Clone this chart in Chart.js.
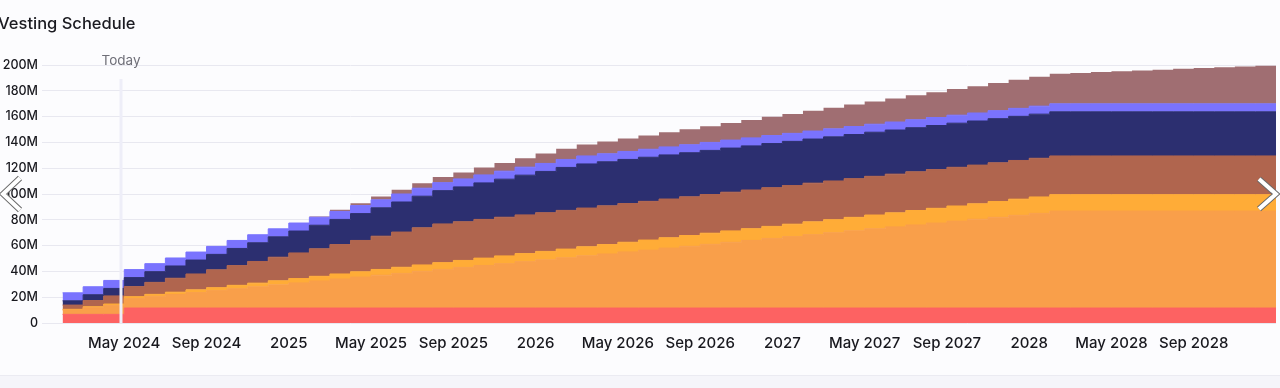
<!DOCTYPE html>
<html><head><meta charset="utf-8">
<script src="https://cdn.jsdelivr.net/npm/chart.js@4.4.1/dist/chart.umd.min.js"></script>
<style>
html,body{margin:0;padding:0;background:#fcfcfe;width:1280px;height:388px;overflow:hidden;font-family:Inter,"Open Sans",sans-serif;}
#title{position:absolute;left:-2px;top:13px;font-size:16.5px;font-weight:500;color:#1a1a20;line-height:20px;}
#wrap{position:absolute;left:0;top:0;width:1280px;height:388px;}
#foot{position:absolute;left:0;top:375px;width:1280px;height:13px;background:#f5f5fa;border-top:1px solid #ebebf2;}
svg.arrow{position:absolute;top:0;left:0;}
</style></head><body>
<div id="wrap"><canvas id="c" width="1280" height="388"></canvas></div>
<div id="title">Vesting Schedule</div>
<div id="foot"></div>
<svg class="arrow" width="1280" height="388">
  <polyline points="20,178 3,194 20,210" fill="none" stroke="#6a6a6a" stroke-width="6" stroke-linejoin="miter"/>
  <polyline points="20,178 3,194 20,210" fill="none" stroke="#ffffff" stroke-width="4" stroke-linejoin="miter"/>
  <polyline points="1259,179 1276,194 1259,209" fill="none" stroke="#6a6a6a" stroke-width="6" stroke-linejoin="miter"/>
  <polyline points="1259,179 1276,194 1259,209" fill="none" stroke="#ffffff" stroke-width="4" stroke-linejoin="miter"/>
</svg>
<script>
// Month of each step (value holds until the next month); last entry closes the final step
const months = [
 '2024-02','2024-03','2024-04','2024-05','2024-06','2024-07','2024-08','2024-09','2024-10','2024-11','2024-12',
 '2025-01','2025-02','2025-03','2025-04','2025-05','2025-06','2025-07','2025-08','2025-09','2025-10','2025-11','2025-12',
 '2026-01','2026-02','2026-03','2026-04','2026-05','2026-06','2026-07','2026-08','2026-09','2026-10','2026-11','2026-12',
 '2027-01','2027-02','2027-03','2027-04','2027-05','2027-06','2027-07','2027-08','2027-09','2027-10','2027-11','2027-12',
 '2028-01','2028-02','2028-03','2028-04','2028-05','2028-06','2028-07','2028-08','2028-09','2028-10','2028-11','2028-12',
 '2029-01'
];
// Unlocked tokens per allocation, millions (stacked bottom to top)
const seriesA = [6.7,6.7,6.7,11.6,11.6,11.6,11.6,11.6,11.6,11.6,
 11.6,11.6,11.6,11.6,11.6,11.6,11.6,11.6,11.6,11.6,
 11.6,11.6,11.6,11.6,11.6,11.6,11.6,11.6,11.6,11.6,
 11.6,11.6,11.6,11.6,11.6,11.6,11.6,11.6,11.6,11.6,
 11.6,11.6,11.6,11.6,11.6,11.6,11.6,11.6,11.6,11.6,
 11.6,11.6,11.6,11.6,11.6,11.6,11.6,11.6,11.6,11.6];
const seriesB = [3.4,5.1,7.0,7.5,9.1,10.5,12.0,13.5,15.0,16.5,
 18.0,19.5,21.0,22.5,24.0,25.5,26.9,28.5,30.0,31.5,
 33.0,34.4,36.0,37.4,39.0,40.5,41.9,43.5,44.9,46.5,
 47.9,49.4,51.0,52.4,54.0,55.4,56.9,58.4,59.9,61.5,
 62.9,64.4,65.9,67.4,68.9,70.4,71.9,73.4,75.2,75.2,
 75.2,75.2,75.2,75.2,75.2,75.2,75.2,75.2,75.2,75.2];
const seriesC = [0.5,0.8,1.0,1.3,1.5,1.8,2.1,2.3,2.6,2.8,
 3.1,3.4,3.6,3.9,4.1,4.4,4.7,4.9,5.2,5.4,
 5.7,6.0,6.2,6.5,6.7,7.0,7.3,7.5,7.8,8.0,
 8.3,8.6,8.8,9.1,9.3,9.6,9.9,10.1,10.4,10.6,
 10.9,11.2,11.4,11.7,11.9,12.2,12.5,12.7,12.7,12.7,
 12.7,12.7,12.7,12.7,12.7,12.7,12.7,12.7,12.7,12.7];
const seriesD = [3.3,4.8,6.3,7.8,9.3,10.8,12.3,13.8,15.3,16.8,
 18.3,19.8,21.3,22.8,24.3,25.8,27.3,28.8,30.0,30.0,
 30.0,30.0,30.0,30.0,30.0,30.0,30.0,30.0,30.0,30.0,
 30.0,30.0,30.0,30.0,30.0,30.0,30.0,30.0,30.0,30.0,
 30.0,30.0,30.0,30.0,30.0,30.0,30.0,30.0,30.0,30.0,
 30.0,30.0,30.0,30.0,30.0,30.0,30.0,30.0,30.0,30.0];
const seriesE = [3.3,4.5,5.8,7.0,8.3,9.5,10.8,12.0,13.3,14.5,
 15.8,17.0,18.3,19.5,20.8,22.0,23.3,24.5,25.8,27.0,
 28.3,29.5,30.8,32.0,33.3,34.2,34.2,34.2,34.2,34.2,
 34.2,34.2,34.2,34.2,34.2,34.2,34.2,34.2,34.2,34.2,
 34.2,34.2,34.2,34.2,34.2,34.2,34.2,34.2,34.2,34.2,
 34.2,34.2,34.2,34.2,34.2,34.2,34.2,34.2,34.2,34.2];
const seriesF = [6.2,6.2,6.2,6.2,6.2,6.2,6.2,6.2,6.2,6.2,
 6.2,6.2,6.2,6.2,6.2,6.2,6.2,6.2,6.2,6.2,
 6.2,6.2,6.2,6.2,6.2,6.2,6.2,6.2,6.2,6.2,
 6.2,6.2,6.2,6.2,6.2,6.2,6.2,6.2,6.2,6.2,
 6.2,6.2,6.2,6.2,6.2,6.2,6.2,6.2,6.2,6.2,
 6.2,6.2,6.2,6.2,6.2,6.2,6.2,6.2,6.2,6.2];
const seriesG = [0,0,0,0,0,0,0,0,0,0,
 0,0,0.6,1.3,1.9,2.5,3.2,3.8,4.4,5.0,
 5.7,6.3,6.9,7.6,8.2,8.8,9.5,10.1,10.7,11.3,
 12.0,12.6,13.2,13.9,14.5,15.1,15.8,16.4,17.0,17.6,
 18.3,18.9,19.5,20.2,20.8,21.4,22.1,22.7,23.3,23.9,
 24.6,25.2,25.8,26.5,27.1,27.7,28.4,29.0,29.6,29.6];
const seriesNames = ['Allocation A','Allocation B','Allocation C','Allocation D','Allocation E','Allocation F','Allocation G'];
const seriesColors = ['#fd6262','#f99f4a','#ffac37','#b0654e','#2c2f70','#7a73fe','#a06e72'];
const tickMonths = ['2024-05','2024-09','2025-01','2025-05','2025-09','2026-01','2026-05','2026-09','2027-01','2027-05','2027-09','2028-01','2028-05','2028-09'];
const tickLabels = ['May 2024','Sep 2024','2025','May 2025','Sep 2025','2026','May 2026','Sep 2026','2027','May 2027','Sep 2027','2028','May 2028','Sep 2028'];
const yTicks = [0,20,40,60,80,100,120,140,160,180,200];
const axisStart = '2024-01', axisEnd = '2029-01';
const today = '2024-04-26';

function mIdx(s){const p=s.split('-').map(Number);return (p[0]-2024)*12+(p[1]-1)+(p.length>2?(p[2]-1)/30:0);}
const allSeries=[seriesA,seriesB,seriesC,seriesD,seriesE,seriesF,seriesG];
const datasets = allSeries.map((arr,i)=>({
  label: seriesNames[i],
  data: arr.map((v,j)=>({x:mIdx(months[j]), y:v})),
  backgroundColor: seriesColors[i],
  borderColor: i===6 ? 'rgba(0,0,0,0)' : seriesColors[i],
  borderWidth: i===6 ? 0 : 1,
  pointRadius: 0,
  stepped: true,
  fill: i===0 ? 'origin' : '-1'
}));
const labelMap = {}; tickMonths.forEach((t,i)=>labelMap[mIdx(t)]=tickLabels[i]);

const todayPlugin = {
  id:'today',
  afterDatasetsDraw(chart){
    const {ctx, chartArea, scales:{x}} = chart;
    const px = Math.round(x.getPixelForValue(mIdx(today)));
    ctx.save();
    ctx.fillStyle = '#eeeef8';
    ctx.fillRect(px-1.5, 79, 3, chartArea.bottom-79);
    ctx.fillStyle = '#6f6f78';
    ctx.font = '400 13.5px Inter, sans-serif';
    ctx.textAlign = 'center';
    ctx.textBaseline = 'middle';
    ctx.fillText('Today', px, 61);
    ctx.restore();
  }
};

new Chart(document.getElementById('c'), {
  type:'line',
  data:{datasets},
  options:{
    responsive:false, animation:false,
    layout:{padding:{top:65,right:4,bottom:25,left:0}},
    plugins:{legend:{display:false}, tooltip:{enabled:false}, filler:{propagate:false}},
    elements:{line:{tension:0}},
    scales:{
      x:{type:'linear', min:mIdx(axisStart), max:mIdx(axisEnd),
        grid:{display:false, drawTicks:false}, border:{display:false},
        afterBuildTicks(s){ s.ticks = tickMonths.map(t=>({value:mIdx(t)})); },
        afterFit(s){ s.height = 40; },
        ticks:{autoSkip:false, maxRotation:0, padding:11, color:'#18181e',
          font:{family:'Inter, sans-serif', size:15, weight:'500'},
          callback:(v)=>labelMap[v]||''}
      },
      y:{stacked:true, min:0, max:200,
        grid:{color:'#e8e8f0', drawTicks:false, lineWidth:1}, border:{display:false},
        afterBuildTicks(s){ s.ticks = yTicks.map(v=>({value:v})); },
        afterFit(s){ s.width = 42; },
        ticks:{padding:4, color:'#18181e', font:{family:'Inter, sans-serif', size:12.5, weight:'500'},
          callback:(v)=> v===0 ? '0' : v+'M'}
      }
    }
  },
  plugins:[todayPlugin]
});
</script>
</body></html>
